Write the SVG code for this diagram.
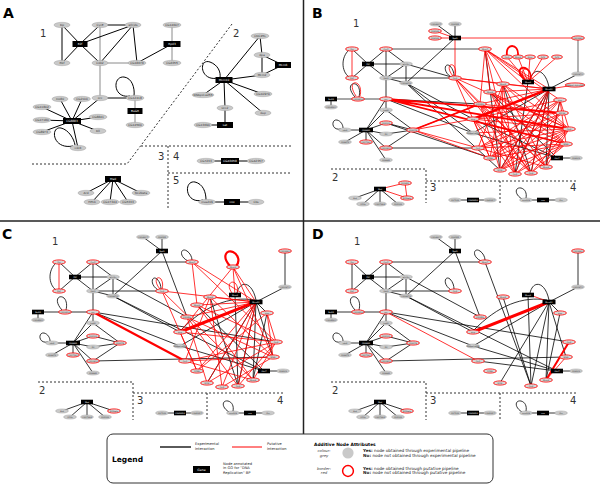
<svg xmlns="http://www.w3.org/2000/svg" width="600" height="485" viewBox="0 0 600 485">
<style>
text{font-family:"DejaVu Sans","Liberation Sans",sans-serif}
.n ellipse{fill:#c9c9c9;stroke:#9a9a9a;stroke-width:.4}
.r ellipse{fill:#d6d6d6;stroke:#f00;stroke-width:.8}
.k rect{fill:#000}
.n text,.k text{text-anchor:middle;fill:#333}
.k text{fill:#fff}
.big text{font-size:2.9px}
.sm text{font-size:2px}
.e{fill:none;stroke:#000;stroke-width:.8}
.ea{fill:none;stroke:#000;stroke-width:1}
.gy{fill:none;stroke:#8a8a8a;stroke-width:1}
.p{fill:none;stroke:#f00;stroke-width:.8}
.pt{fill:none;stroke:#f00;stroke-width:2.2}
.d{fill:none;stroke:#333;stroke-width:1;stroke-dasharray:2 2}
.lab{font-size:10px;fill:#333}
.pl{font-size:14px;font-weight:bold;fill:#000}
.frame{stroke:#222;stroke-width:1.5}
</style>
<rect width="600" height="485" fill="#fff"/>
<line class="frame" x1="303.5" y1="0" x2="303.5" y2="434"/>
<line class="frame" x1="0" y1="221" x2="600" y2="221"/>

<!-- ================= PANEL A ================= -->
<g id="panel-a">
<text class="pl" x="3" y="18">A</text>
<text class="lab" x="40" y="37">1</text>
<text class="lab" x="233" y="37">2</text>
<text class="lab" x="158" y="160">3</text>
<text class="lab" x="173" y="160">4</text>
<text class="lab" x="173" y="184">5</text>
<path class="d" d="M32,164L127,164L232,24M141,146L292,146M168,146L168,210M168,173L292,173"/>
<g id="a-connectors">
<path class="gy" d="M100,25L100,63M100,63L137,63M100,63L100,98M172,25L172,44M172,44L172,63M135,98L135,111M135,111L135,125"/>
<path class="ea" d="M62,25L80,44M62,25L62,63M100,25L80,44M100,25L133,25M133,25L80,44M133,25L100,63M133,25L137,63M80,44L62,63M80,44L100,63M137,63L172,44M100,98L135,98M72,121L100,98M72,121L60,99M72,121L82,99M72,121L42,107M72,121L42,120M72,121L42,132M72,121L98,117M72,121L98,131M72,121L78,148M73,146C52,150 50,126 61,128C69,130 74,139 75,145M130,96C113,99 112,76 124,77C132,78 135,88 134,96"/>
<path class="ea" d="M224,80L260,36M260,36L262,55M262,55L262,75M262,55L283,65M262,75L283,65M224,80L262,75M224,80L263,94M224,80L263,113M224,80L203,95M224,80L225,108M225,108L225,125M225,125L203,125M218,78C200,82 198,58 210,62C218,65 221,72 220,78"/>
<path class="ea" d="M113,179L86,193M113,179L92,202M113,179L110,202M113,179L128,202M113,179L141,193M206,161L256,161M207,202L256,202M203,200C185,205 183,180 195,182C203,184 206,192 206,200"/>
</g>
<g class="big">
<g id="a-dp" class="n"><ellipse cx="62" cy="25" rx="8" ry="2.7"/><text x="62" y="26">Dp</text></g>
<g id="a-cyce" class="n"><ellipse cx="100" cy="25" rx="8" ry="2.7"/><text x="100" y="26">CycE</text></g>
<g id="a-eh2s" class="n"><ellipse cx="133" cy="25" rx="8" ry="2.7"/><text x="133" y="26">e(h)2s</text></g>
<g id="a-e2f" class="k"><rect x="72.5" y="41" width="15" height="6"/><text x="80" y="45">E2f</text></g>
<g id="a-rbf" class="n"><ellipse cx="62" cy="63" rx="8" ry="2.7"/><text x="62" y="64">Rbf</text></g>
<g id="a-cdk2" class="n"><ellipse cx="100" cy="63" rx="8" ry="2.7"/><text x="100" y="64">Cdk2</text></g>
<g id="a-cg18676" class="n"><ellipse cx="137" cy="63" rx="9" ry="2.7"/><text x="137" y="64">CG18676</text></g>
<g id="a-cg14607" class="n"><ellipse cx="172" cy="25" rx="9" ry="2.7"/><text x="172" y="26">CG14607</text></g>
<g id="a-rpd3" class="k"><rect x="163.5" y="41" width="17" height="6"/><text x="172" y="45">Rpd3</text></g>
<g id="a-cg6355" class="n"><ellipse cx="172" cy="63" rx="9" ry="2.7"/><text x="172" y="64">CG6355</text></g>
<g id="a-orc" class="n"><ellipse cx="100" cy="98" rx="8" ry="2.7"/><text x="100" y="99">orc</text></g>
<g id="a-cg12418" class="n"><ellipse cx="135" cy="98" rx="9" ry="2.7"/><text x="135" y="99">CG12418</text></g>
<g id="a-bugr" class="k"><rect x="127.5" y="108" width="15" height="6"/><text x="135" y="112">BuGR</text></g>
<g id="a-cg14560" class="n"><ellipse cx="135" cy="125" rx="9" ry="2.7"/><text x="135" y="126">CG14560</text></g>
<g id="a-cg8883" class="k"><rect x="63" y="118" width="18" height="6"/><text x="72" y="122">CG8883</text></g>
<g id="a-ino80" class="n"><ellipse cx="60" cy="99" rx="8" ry="2.7"/><text x="60" y="100">Ino80</text></g>
<g id="a-cg2100" class="n"><ellipse cx="82" cy="99" rx="8.5" ry="2.7"/><text x="82" y="100">CG2100</text></g>
<g id="a-cg11802" class="n"><ellipse cx="42" cy="107" rx="9" ry="2.7"/><text x="42" y="108">CG11802</text></g>
<g id="a-cg17180" class="n"><ellipse cx="42" cy="120" rx="9" ry="2.7"/><text x="42" y="121">CG17180</text></g>
<g id="a-cg8973" class="n"><ellipse cx="42" cy="132" rx="9" ry="2.7"/><text x="42" y="133">CG8973</text></g>
<g id="a-cg8841" class="n"><ellipse cx="98" cy="117" rx="9" ry="2.7"/><text x="98" y="118">CG8841</text></g>
<g id="a-dll" class="n"><ellipse cx="98" cy="131" rx="8" ry="2.7"/><text x="98" y="132">Dll</text></g>
<g id="a-cdc6" class="n"><ellipse cx="78" cy="148" rx="8" ry="2.7"/><text x="78" y="149">cdc6</text></g>
<g id="a-mcm10" class="k"><rect x="215.5" y="77" width="17" height="6"/><text x="224" y="81">Mcm10</text></g>
<g id="a-cdc45l" class="n"><ellipse cx="260" cy="36" rx="9" ry="2.7"/><text x="260" y="37">CDC45L</text></g>
<g id="a-dpa" class="n"><ellipse cx="262" cy="55" rx="8" ry="2.7"/><text x="262" y="56">dpa</text></g>
<g id="a-mcm6" class="k"><rect x="275" y="62" width="16" height="6"/><text x="283" y="66">Mcm6</text></g>
<g id="a-mcm2" class="n"><ellipse cx="262" cy="75" rx="8" ry="2.7"/><text x="262" y="76">Mcm2</text></g>
<g id="a-cg10970" class="n"><ellipse cx="263" cy="94" rx="9" ry="2.7"/><text x="263" y="95">CG10970</text></g>
<g id="a-dup" class="n"><ellipse cx="263" cy="113" rx="8" ry="2.7"/><text x="263" y="114">dup</text></g>
<g id="a-pol" class="n"><ellipse cx="203" cy="95" rx="11" ry="2.7"/><text x="203" y="96">DNApol-e255</text></g>
<g id="a-orc2" class="n"><ellipse cx="225" cy="108" rx="8" ry="2.7"/><text x="225" y="109">Orc2</text></g>
<g id="a-lat" class="k"><rect x="217" y="122" width="16" height="6"/><text x="225" y="126">Lat</text></g>
<g id="a-cg13690" class="n"><ellipse cx="203" cy="125" rx="9" ry="2.7"/><text x="203" y="126">CG13690</text></g>
<g id="a-mad" class="k"><rect x="105" y="176" width="16" height="6"/><text x="113" y="180">Mad</text></g>
<g id="a-ard" class="n"><ellipse cx="86" cy="193" rx="8" ry="2.7"/><text x="86" y="194">Ard</text></g>
<g id="a-hp1b" class="n"><ellipse cx="92" cy="202" rx="8" ry="2.7"/><text x="92" y="203">HP1b</text></g>
<g id="a-cg17344" class="n"><ellipse cx="110" cy="202" rx="9" ry="2.7"/><text x="110" y="203">CG17344</text></g>
<g id="a-cg5333" class="n"><ellipse cx="128" cy="202" rx="8.5" ry="2.7"/><text x="128" y="203">CG5333</text></g>
<g id="a-nc2b" class="n"><ellipse cx="141" cy="193" rx="9" ry="2.7"/><text x="141" y="194">NC2beta</text></g>
<g id="a-cg7233" class="n"><ellipse cx="206" cy="161" rx="9" ry="2.7"/><text x="206" y="162">CG7233</text></g>
<g id="a-cg43658" class="k"><rect x="221" y="158" width="18" height="6"/><text x="230" y="162">CG43658</text></g>
<g id="a-cg42357" class="n"><ellipse cx="256" cy="161" rx="9" ry="2.7"/><text x="256" y="162">CG42357</text></g>
<g id="a-mus209" class="n"><ellipse cx="207" cy="202" rx="8.5" ry="2.7"/><text x="207" y="203">mus209</text></g>
<g id="a-cno" class="k"><rect x="224" y="199" width="16" height="6"/><text x="232" y="203">cno</text></g>
<g id="a-cks" class="n"><ellipse cx="256" cy="202" rx="8" ry="2.7"/><text x="256" y="203">Cks</text></g>
</g>
</g>

<!-- ================= PANEL C ================= -->
<g id="panel-c">
<text class="pl" x="2" y="239">C</text>
<text class="lab" x="52" y="245">1</text>
<text class="lab" x="39" y="394">2</text>
<text class="lab" x="137" y="404">3</text>
<text class="lab" x="277" y="404">4</text>
<path class="d" d="M38,382L133,382L133,420M133,393L285,393M207,393L207,420"/>
<g id="c-connectors">
<path class="e" d="M59,262L75,277M59,291L75,277M93,262L75,277M113,277L75,277M93,291L75,277M93,262L93,291M93,262L113,277M113,277L93,291M113,277L113,296M93,291L113,296M93,262L192,262M93,291L162,291M113,296L162,251M143,237L162,251M162,237L162,251M93,291L93,312M38,312L38,320M38,312L65,312M65,312L93,312M93,312L73,343M93,312L93,323M73,343L93,323M73,343L93,336M73,343L93,347M73,343L93,361M73,343L93,373M73,343L52,343M73,343L52,355M73,343L73,355M93,323L120,343M93,336L120,343M93,347L120,343M93,361L120,343M93,361L273,357M93,312L180,346M93,312L276,342M113,296L264,371M113,277L187,317M162,251L187,317M113,296L180,332"/>
<path class="e" d="M285,251L285,287M285,287L256,302M256,302L238,386M256,302L253,380M235,295L238,386M256,302L180,346M210,297L238,386M180,346L264,371M264,371L283,371M256,302L207,383M256,302L273,357M256,302L267,313M267,313L253,380M197,305L264,371"/>
<path class="e" d="M180,331C205,305 230,296 254,300M237,293C240,280 252,281 256,300M188,261C178,256 181,247 187,251C190,253 192,257 192,260M158,290C149,284 152,275 157,279C160,282 161,286 161,289M62,310C53,300 59,294 64,298C67,301 67,306 66,310M48,342C38,344 38,332 44,333C48,334 50,338 50,341M56,263C48,270 48,284 56,290"/>
<path class="e" d="M87,402L62,411M87,402L70,417M87,402L87,417M87,402L105,417M87,402L114,411M162,413L197,413M233,413L268,413M229,412C221,407 222,400 228,401C232,402 234,406 233,411"/>
<path class="p" d="M59,262L59,291M233,267L235,295M192,262L256,302M192,262L276,342M210,297L256,302M197,305L256,302M187,317L256,302M187,317L273,357M180,332L276,342M185,361L276,342M185,361L273,357M185,361L253,380M197,371L256,302M197,371L267,313M207,383L256,302M207,383L276,342M222,387L256,302M238,386L256,302M253,380L276,342M273,357L267,313M276,342L267,313M197,305L253,380M210,297L222,387M210,297L273,357M187,317L207,383M180,332L197,371M162,291L197,371M162,291L253,380M192,262L197,305M210,297L185,361M187,317L238,386M197,305L276,342M233,267L180,332M233,267L273,357M222,387L273,357M238,386L276,342M162,291L256,302M233,267L256,302M232,293C226,285 231,280 235,283C238,286 238,290 237,293M160,289C153,281 157,275 161,279C163,282 163,286 162,289"/>
<path class="pt" d="M93,312L185,361M230,266C221,256 227,249 233,252C239,255 240,262 236,266"/>
<path class="pt" style="stroke-width:3" d="M180,332L256,302"/>
</g>
<g class="sm">
<g id="c-dp" class="n r"><ellipse cx="59" cy="262" rx="6.5" ry="2.1"/><text x="59" y="262.7">Dp</text></g>
<g id="c-rbf" class="n r"><ellipse cx="59" cy="291" rx="6.5" ry="2.1"/><text x="59" y="291.7">Rbf</text></g>
<g id="c-e2f" class="k"><rect x="69" y="274.7" width="12" height="4.6"/><text x="75" y="277.7">E2f</text></g>
<g id="c-cyce" class="n r"><ellipse cx="93" cy="262" rx="6.5" ry="2.1"/><text x="93" y="262.7">CycE</text></g>
<g id="c-eh2s" class="n"><ellipse cx="113" cy="277" rx="6.5" ry="2.1"/><text x="113" y="277.7">e(h)2s</text></g>
<g id="c-cdk2" class="n"><ellipse cx="93" cy="291" rx="6.5" ry="2.1"/><text x="93" y="291.7">Cdk2</text></g>
<g id="c-cg18676" class="n"><ellipse cx="113" cy="296" rx="6.5" ry="2.1"/><text x="113" y="296.7">CG18676</text></g>
<g id="c-bugr" class="k"><rect x="32" y="309.7" width="12" height="4.6"/><text x="38" y="312.7">BuGR</text></g>
<g id="c-cg14560" class="n"><ellipse cx="38" cy="320" rx="6.5" ry="2.1"/><text x="38" y="320.7">CG14560</text></g>
<g id="c-cg12418" class="n r"><ellipse cx="65" cy="312" rx="6.5" ry="2.1"/><text x="65" y="312.7">CG12418</text></g>
<g id="c-orc" class="n r"><ellipse cx="93" cy="312" rx="6.5" ry="2.1"/><text x="93" y="312.7">orc</text></g>
<g id="c-ino80" class="n"><ellipse cx="93" cy="323" rx="6.5" ry="2.1"/><text x="93" y="323.7">Ino80</text></g>
<g id="c-cg8883" class="k"><rect x="66" y="340.7" width="14" height="4.6"/><text x="73" y="343.7">CG8883</text></g>
<g id="c-cdc6" class="n"><ellipse cx="52" cy="343" rx="6.5" ry="2.1"/><text x="52" y="343.7">cdc6</text></g>
<g id="c-cg8973" class="n"><ellipse cx="52" cy="355" rx="6.5" ry="2.1"/><text x="52" y="355.7">CG8973</text></g>
<g id="c-cg17180" class="n r"><ellipse cx="73" cy="355" rx="6.5" ry="2.1"/><text x="73" y="355.7">CG17180</text></g>
<g id="c-cg2100" class="n r"><ellipse cx="93" cy="336" rx="6.5" ry="2.1"/><text x="93" y="336.7">CG2100</text></g>
<g id="c-dll" class="n"><ellipse cx="93" cy="347" rx="6.5" ry="2.1"/><text x="93" y="347.7">Dll</text></g>
<g id="c-cg11802" class="n r"><ellipse cx="93" cy="361" rx="6.5" ry="2.1"/><text x="93" y="361.7">CG11802</text></g>
<g id="c-cg8841" class="n"><ellipse cx="93" cy="373" rx="6.5" ry="2.1"/><text x="93" y="373.7">CG8841</text></g>
<g id="c-cg4078" class="n r"><ellipse cx="120" cy="343" rx="6.5" ry="2.1"/><text x="120" y="343.7">CG4078</text></g>
<g id="c-cg14607" class="n"><ellipse cx="143" cy="237" rx="6.5" ry="2.1"/><text x="143" y="237.7">CG14607</text></g>
<g id="c-rpd3" class="k"><rect x="156" y="248.7" width="12" height="4.6"/><text x="162" y="251.7">Rpd3</text></g>
<g id="c-cg6355" class="n"><ellipse cx="162" cy="237" rx="6.5" ry="2.1"/><text x="162" y="237.7">CG6355</text></g>
<g id="c-mcm7" class="n r"><ellipse cx="192" cy="262" rx="6.5" ry="2.1"/><text x="192" y="262.7">Mcm7</text></g>
<g id="c-orc2" class="n r"><ellipse cx="162" cy="291" rx="6.5" ry="2.1"/><text x="162" y="291.7">Orc2</text></g>
<g id="c-cg13690" class="n r"><ellipse cx="285" cy="251" rx="6.5" ry="2.1"/><text x="285" y="251.7">CG13690</text></g>
<g id="c-cg10970" class="n"><ellipse cx="285" cy="287" rx="6.5" ry="2.1"/><text x="285" y="287.7">CG10970</text></g>
<g id="c-mcm3" class="n r"><ellipse cx="233" cy="267" rx="6.5" ry="2.1"/><text x="233" y="267.7">Mcm3</text></g>
<g id="c-mcm6" class="k"><rect x="229" y="292.7" width="12" height="4.6"/><text x="235" y="295.7">Mcm6</text></g>
<g id="c-mcm10" class="k"><rect x="249.5" y="299.7" width="13" height="4.6"/><text x="256" y="302.7">Mcm10</text></g>
<g id="c-mcm5" class="n r"><ellipse cx="210" cy="297" rx="6.5" ry="2.1"/><text x="210" y="297.7">Mcm5</text></g>
<g id="c-mcm2" class="n r"><ellipse cx="197" cy="305" rx="6.5" ry="2.1"/><text x="197" y="305.7">Mcm2</text></g>
<g id="c-dpa" class="n r"><ellipse cx="267" cy="313" rx="6.5" ry="2.1"/><text x="267" y="313.7">dpa</text></g>
<g id="c-cdc45l" class="n r"><ellipse cx="187" cy="317" rx="6.5" ry="2.1"/><text x="187" y="317.7">CDC45L</text></g>
<g id="c-dup" class="n r"><ellipse cx="180" cy="332" rx="6.5" ry="2.1"/><text x="180" y="332.7">dup</text></g>
<g id="c-pol" class="n"><ellipse cx="180" cy="346" rx="6.5" ry="2.1"/><text x="180" y="346.7">DNApol-e255</text></g>
<g id="c-orc1" class="n r"><ellipse cx="185" cy="361" rx="6.5" ry="2.1"/><text x="185" y="361.7">Orc1</text></g>
<g id="c-pcna" class="n r"><ellipse cx="197" cy="371" rx="6.5" ry="2.1"/><text x="197" y="371.7">PCNA</text></g>
<g id="c-rfc4" class="n r"><ellipse cx="207" cy="383" rx="6.5" ry="2.1"/><text x="207" y="383.7">RfC4</text></g>
<g id="c-orc5" class="n r"><ellipse cx="222" cy="387" rx="6.5" ry="2.1"/><text x="222" y="387.7">Orc5</text></g>
<g id="c-orc4" class="n r"><ellipse cx="238" cy="386" rx="6.5" ry="2.1"/><text x="238" y="386.7">Orc4</text></g>
<g id="c-mcm4" class="n r"><ellipse cx="253" cy="380" rx="6.5" ry="2.1"/><text x="253" y="380.7">Mcm4</text></g>
<g id="c-rpa2" class="n r"><ellipse cx="273" cy="357" rx="6.5" ry="2.1"/><text x="273" y="357.7">RPA2</text></g>
<g id="c-orc6" class="n r"><ellipse cx="276" cy="342" rx="6.5" ry="2.1"/><text x="276" y="342.7">Orc6</text></g>
<g id="c-cdc7" class="k"><rect x="258" y="368.7" width="12" height="4.6"/><text x="264" y="371.7">Cdc7</text></g>
<g id="c-cg9203" class="n"><ellipse cx="283" cy="371" rx="6.5" ry="2.1"/><text x="283" y="371.7">CG9203</text></g>
<g id="c-mad" class="k"><rect x="81" y="399.7" width="12" height="4.6"/><text x="87" y="402.7">Mad</text></g>
<g id="c-ard" class="n"><ellipse cx="62" cy="411" rx="6.5" ry="2.1"/><text x="62" y="411.7">Ard</text></g>
<g id="c-hp1b" class="n"><ellipse cx="70" cy="417" rx="6.5" ry="2.1"/><text x="70" y="417.7">HP1b</text></g>
<g id="c-cg17344" class="n"><ellipse cx="87" cy="417" rx="6.5" ry="2.1"/><text x="87" y="417.7">CG17344</text></g>
<g id="c-cg5333" class="n"><ellipse cx="105" cy="417" rx="6.5" ry="2.1"/><text x="105" y="417.7">CG5333</text></g>
<g id="c-nc2b" class="n r"><ellipse cx="114" cy="411" rx="6.5" ry="2.1"/><text x="114" y="411.7">NC2beta</text></g>
<g id="c-cg7233" class="n"><ellipse cx="162" cy="413" rx="6.5" ry="2.1"/><text x="162" y="413.7">CG7233</text></g>
<g id="c-cg43658" class="k"><rect x="174" y="410.7" width="12" height="4.6"/><text x="180" y="413.7">CG43658</text></g>
<g id="c-cg42357" class="n"><ellipse cx="197" cy="413" rx="6.5" ry="2.1"/><text x="197" y="413.7">CG42357</text></g>
<g id="c-mus209" class="n"><ellipse cx="233" cy="413" rx="6.5" ry="2.1"/><text x="233" y="413.7">mus209</text></g>
<g id="c-cno" class="k"><rect x="244" y="410.7" width="12" height="4.6"/><text x="250" y="413.7">cno</text></g>
<g id="c-cks" class="n"><ellipse cx="268" cy="413" rx="6.5" ry="2.1"/><text x="268" y="413.7">Cks</text></g>
</g>
</g>

<!-- ================= PANEL D ================= -->
<g id="panel-d">
<text class="pl" x="312" y="239">D</text>
<text class="lab" x="354" y="245">1</text>
<text class="lab" x="332" y="394">2</text>
<text class="lab" x="430" y="404">3</text>
<text class="lab" x="570" y="404">4</text>
<g transform="translate(293,0)">
<path class="d" d="M38,382L133,382L133,420M133,393L285,393M207,393L207,420"/>
<g id="d-connectors">
<path class="e" d="M59,262L59,291M59,262L75,277M59,291L75,277M93,262L75,277M113,277L75,277M93,291L75,277M93,262L93,291M93,262L113,277M113,277L93,291M113,277L113,296M93,291L113,296M93,262L192,262M93,291L162,291M113,296L162,251M143,237L162,251M162,237L162,251M93,291L93,312M38,312L38,320M38,312L65,312M65,312L93,312M93,312L73,343M93,312L93,323M73,343L93,323M73,343L93,336M73,343L93,347M73,343L93,361M73,343L93,373M73,343L52,343M73,343L52,355M73,343L73,355M93,323L120,343M93,336L120,343M93,347L120,343M93,361L120,343M93,361L273,357M93,312L180,346M93,312L276,342M113,296L264,371M113,277L187,317M162,251L187,317M113,296L180,332"/>
<path class="e" d="M285,251L285,287M285,287L256,302M256,302L238,386M256,302L253,380M235,295L238,386M256,302L180,346M210,297L238,386M180,346L264,371M264,371L283,371M256,302L207,383M256,302L273,357M256,302L267,313M267,313L253,380M192,262L238,386M185,361L264,371"/>
<path class="e" d="M180,331C205,305 230,296 254,300M237,293C240,280 252,281 256,300M188,261C178,256 181,247 187,251C190,253 192,257 192,260M158,290C149,284 152,275 157,279C160,282 161,286 161,289M62,310C53,300 59,294 64,298C67,301 67,306 66,310M48,342C38,344 38,332 44,333C48,334 50,338 50,341"/>
<path class="e" d="M87,402L62,411M87,402L70,417M87,402L87,417M87,402L105,417M87,402L114,411M162,413L197,413M233,413L268,413M229,412C221,407 222,400 228,401C232,402 234,406 233,411"/>
<path class="p" d="M93,312L185,361M240,296L256,302M273,357L253,380"/>
<path class="pt" style="stroke-width:2" d="M276,342L253,380"/>
<path class="pt" style="stroke-width:3" d="M180,332L256,302"/>
</g>
<g class="sm">
<g id="d-dp" class="n r"><ellipse cx="59" cy="262" rx="6.5" ry="2.1"/><text x="59" y="262.7">Dp</text></g>
<g id="d-rbf" class="n r"><ellipse cx="59" cy="291" rx="6.5" ry="2.1"/><text x="59" y="291.7">Rbf</text></g>
<g id="d-e2f" class="k"><rect x="69" y="274.7" width="12" height="4.6"/><text x="75" y="277.7">E2f</text></g>
<g id="d-cyce" class="n r"><ellipse cx="93" cy="262" rx="6.5" ry="2.1"/><text x="93" y="262.7">CycE</text></g>
<g id="d-eh2s" class="n"><ellipse cx="113" cy="277" rx="6.5" ry="2.1"/><text x="113" y="277.7">e(h)2s</text></g>
<g id="d-cdk2" class="n"><ellipse cx="93" cy="291" rx="6.5" ry="2.1"/><text x="93" y="291.7">Cdk2</text></g>
<g id="d-cg18676" class="n"><ellipse cx="113" cy="296" rx="6.5" ry="2.1"/><text x="113" y="296.7">CG18676</text></g>
<g id="d-bugr" class="k"><rect x="32" y="309.7" width="12" height="4.6"/><text x="38" y="312.7">BuGR</text></g>
<g id="d-cg14560" class="n"><ellipse cx="38" cy="320" rx="6.5" ry="2.1"/><text x="38" y="320.7">CG14560</text></g>
<g id="d-cg12418" class="n r"><ellipse cx="65" cy="312" rx="6.5" ry="2.1"/><text x="65" y="312.7">CG12418</text></g>
<g id="d-orc" class="n r"><ellipse cx="93" cy="312" rx="6.5" ry="2.1"/><text x="93" y="312.7">orc</text></g>
<g id="d-ino80" class="n"><ellipse cx="93" cy="323" rx="6.5" ry="2.1"/><text x="93" y="323.7">Ino80</text></g>
<g id="d-cg8883" class="k"><rect x="66" y="340.7" width="14" height="4.6"/><text x="73" y="343.7">CG8883</text></g>
<g id="d-cdc6" class="n"><ellipse cx="52" cy="343" rx="6.5" ry="2.1"/><text x="52" y="343.7">cdc6</text></g>
<g id="d-cg8973" class="n"><ellipse cx="52" cy="355" rx="6.5" ry="2.1"/><text x="52" y="355.7">CG8973</text></g>
<g id="d-cg17180" class="n r"><ellipse cx="73" cy="355" rx="6.5" ry="2.1"/><text x="73" y="355.7">CG17180</text></g>
<g id="d-cg2100" class="n r"><ellipse cx="93" cy="336" rx="6.5" ry="2.1"/><text x="93" y="336.7">CG2100</text></g>
<g id="d-dll" class="n"><ellipse cx="93" cy="347" rx="6.5" ry="2.1"/><text x="93" y="347.7">Dll</text></g>
<g id="d-cg11802" class="n r"><ellipse cx="93" cy="361" rx="6.5" ry="2.1"/><text x="93" y="361.7">CG11802</text></g>
<g id="d-cg8841" class="n"><ellipse cx="93" cy="373" rx="6.5" ry="2.1"/><text x="93" y="373.7">CG8841</text></g>
<g id="d-cg4078" class="n r"><ellipse cx="120" cy="343" rx="6.5" ry="2.1"/><text x="120" y="343.7">CG4078</text></g>
<g id="d-cg14607" class="n"><ellipse cx="143" cy="237" rx="6.5" ry="2.1"/><text x="143" y="237.7">CG14607</text></g>
<g id="d-rpd3" class="k"><rect x="156" y="248.7" width="12" height="4.6"/><text x="162" y="251.7">Rpd3</text></g>
<g id="d-cg6355" class="n"><ellipse cx="162" cy="237" rx="6.5" ry="2.1"/><text x="162" y="237.7">CG6355</text></g>
<g id="d-mcm7" class="n r"><ellipse cx="192" cy="262" rx="6.5" ry="2.1"/><text x="192" y="262.7">Mcm7</text></g>
<g id="d-orc2" class="n r"><ellipse cx="162" cy="291" rx="6.5" ry="2.1"/><text x="162" y="291.7">Orc2</text></g>
<g id="d-cg13690" class="n r"><ellipse cx="285" cy="251" rx="6.5" ry="2.1"/><text x="285" y="251.7">CG13690</text></g>
<g id="d-cg10970" class="n"><ellipse cx="285" cy="287" rx="6.5" ry="2.1"/><text x="285" y="287.7">CG10970</text></g>
<g id="d-mcm6" class="k"><rect x="229" y="292.7" width="12" height="4.6"/><text x="235" y="295.7">Mcm6</text></g>
<g id="d-mcm10" class="k"><rect x="249.5" y="299.7" width="13" height="4.6"/><text x="256" y="302.7">Mcm10</text></g>
<g id="d-mcm5" class="n r"><ellipse cx="210" cy="297" rx="6.5" ry="2.1"/><text x="210" y="297.7">Mcm5</text></g>
<g id="d-dpa" class="n r"><ellipse cx="267" cy="313" rx="6.5" ry="2.1"/><text x="267" y="313.7">dpa</text></g>
<g id="d-cdc45l" class="n r"><ellipse cx="187" cy="317" rx="6.5" ry="2.1"/><text x="187" y="317.7">CDC45L</text></g>
<g id="d-dup" class="n r"><ellipse cx="180" cy="332" rx="6.5" ry="2.1"/><text x="180" y="332.7">dup</text></g>
<g id="d-pol" class="n"><ellipse cx="180" cy="346" rx="6.5" ry="2.1"/><text x="180" y="346.7">DNApol-e255</text></g>
<g id="d-orc1" class="n r"><ellipse cx="185" cy="361" rx="6.5" ry="2.1"/><text x="185" y="361.7">Orc1</text></g>
<g id="d-pcna" class="n r"><ellipse cx="197" cy="371" rx="6.5" ry="2.1"/><text x="197" y="371.7">PCNA</text></g>
<g id="d-rfc4" class="n r"><ellipse cx="207" cy="383" rx="6.5" ry="2.1"/><text x="207" y="383.7">RfC4</text></g>
<g id="d-orc4" class="n r"><ellipse cx="238" cy="386" rx="6.5" ry="2.1"/><text x="238" y="386.7">Orc4</text></g>
<g id="d-mcm4" class="n r"><ellipse cx="253" cy="380" rx="6.5" ry="2.1"/><text x="253" y="380.7">Mcm4</text></g>
<g id="d-rpa2" class="n r"><ellipse cx="273" cy="357" rx="6.5" ry="2.1"/><text x="273" y="357.7">RPA2</text></g>
<g id="d-orc6" class="n r"><ellipse cx="276" cy="342" rx="6.5" ry="2.1"/><text x="276" y="342.7">Orc6</text></g>
<g id="d-cdc7" class="k"><rect x="258" y="368.7" width="12" height="4.6"/><text x="264" y="371.7">Cdc7</text></g>
<g id="d-cg9203" class="n"><ellipse cx="283" cy="371" rx="6.5" ry="2.1"/><text x="283" y="371.7">CG9203</text></g>
<g id="d-mad" class="k"><rect x="81" y="399.7" width="12" height="4.6"/><text x="87" y="402.7">Mad</text></g>
<g id="d-ard" class="n"><ellipse cx="62" cy="411" rx="6.5" ry="2.1"/><text x="62" y="411.7">Ard</text></g>
<g id="d-hp1b" class="n"><ellipse cx="70" cy="417" rx="6.5" ry="2.1"/><text x="70" y="417.7">HP1b</text></g>
<g id="d-cg17344" class="n"><ellipse cx="87" cy="417" rx="6.5" ry="2.1"/><text x="87" y="417.7">CG17344</text></g>
<g id="d-cg5333" class="n"><ellipse cx="105" cy="417" rx="6.5" ry="2.1"/><text x="105" y="417.7">CG5333</text></g>
<g id="d-nc2b" class="n r"><ellipse cx="114" cy="411" rx="6.5" ry="2.1"/><text x="114" y="411.7">NC2beta</text></g>
<g id="d-cg7233" class="n"><ellipse cx="162" cy="413" rx="6.5" ry="2.1"/><text x="162" y="413.7">CG7233</text></g>
<g id="d-cg43658" class="k"><rect x="174" y="410.7" width="12" height="4.6"/><text x="180" y="413.7">CG43658</text></g>
<g id="d-cg42357" class="n"><ellipse cx="197" cy="413" rx="6.5" ry="2.1"/><text x="197" y="413.7">CG42357</text></g>
<g id="d-mus209" class="n"><ellipse cx="233" cy="413" rx="6.5" ry="2.1"/><text x="233" y="413.7">mus209</text></g>
<g id="d-cno" class="k"><rect x="244" y="410.7" width="12" height="4.6"/><text x="250" y="413.7">cno</text></g>
<g id="d-cks" class="n"><ellipse cx="268" cy="413" rx="6.5" ry="2.1"/><text x="268" y="413.7">Cks</text></g>
</g>
</g>
</g>

<!-- ================= PANEL B ================= -->
<g id="panel-b">
<text class="pl" x="312" y="18">B</text>
<text class="lab" x="353" y="27">1</text>
<text class="lab" x="332" y="181">2</text>
<text class="lab" x="430" y="191">3</text>
<text class="lab" x="570" y="191">4</text>
<g transform="translate(293,-213)">
<path class="d" d="M38,382L133,382L133,416M133,394L285,394M207,394L207,416"/>
<g id="b-connectors">
<path class="gy" d="M93,262L192,262M38,312L65,312M65,312L93,312M285,251L285,287" style="stroke-width:1.3"/>
<path class="e" d="M59,262L75,277M59,291L75,277M93,262L75,277M113,277L75,277M93,291L75,277M93,262L93,291M93,262L113,277M113,277L93,291M113,277L113,296M93,291L113,296M93,291L162,291M113,296L162,251M143,237L162,251M162,237L162,251M93,291L93,312M38,312L38,320M93,312L73,343M93,312L93,323M73,343L93,323M73,343L93,336M73,343L93,347M73,343L93,361M73,343L93,373M73,343L52,343M73,343L52,355M73,343L73,355M93,323L120,343M93,336L120,343M93,347L120,343M93,361L120,343M93,361L185,361M93,312L180,346M93,312L187,317M113,296L180,332M113,296L180,346M113,277L162,291M113,296L207,383M93,336L197,371"/>
<path class="e" d="M285,287L256,302M256,302L238,386M256,302L253,380M256,302L222,387M235,295L222,387M210,297L238,386M180,346L264,371M264,371L283,371M256,302L207,383M256,302L180,346M267,313L253,380M192,262L207,383M197,305L264,371M180,332L264,371"/>
<path class="e" d="M237,293C240,280 252,281 256,300M158,290C149,284 152,275 157,279C160,282 161,286 161,289M62,310C53,300 59,294 64,298C67,301 67,306 66,310M48,342C38,344 38,332 44,333C48,334 50,338 50,341M56,263C48,270 48,284 56,290"/>
<path class="e" d="M87,402L62,411M87,402L70,417M87,402L87,417M87,402L105,417M162,413L197,413M233,413L268,413M229,412C221,407 222,400 228,401C232,402 234,406 233,411"/>
<path class="p" d="M59,262L59,291M87,402L112,396M87,402L114,411M112,396L114,411M162,251L285,251M142,244L162,251M142,251L162,251M162,251L162,291M214,270L235,295M225,270L235,295M237,270L235,295M250,270L235,295M264,270L235,295M192,262L235,295M192,262L256,302M192,262L276,342M210,297L256,302M197,305L256,302M187,317L256,302M187,317L273,357M180,332L276,342M185,361L276,342M185,361L273,357M185,361L253,380M197,371L256,302M197,371L267,313M207,383L256,302M207,383L276,342M222,387L256,302M238,386L256,302M253,380L276,342M273,357L267,313M276,342L267,313M197,305L253,380M210,297L222,387M210,297L273,357M187,317L207,383M180,332L197,371M162,291L197,371M162,291L253,380M192,262L197,305M210,297L185,361M187,317L238,386M197,305L276,342M222,387L273,357M238,386L276,342M162,291L256,302M269,326L187,317M269,326L180,332M269,326L185,361M269,326L197,371M269,326L207,383M282,298L256,302M197,305L238,386M192,262L222,387M192,262L253,380M210,297L207,383M210,297L197,371M187,317L222,387M187,317L253,380M180,332L238,386M180,332L222,387M180,332L267,313M185,361L267,313M197,371L276,342M197,371L273,357M207,383L273,357M207,383L267,313M222,387L276,342M238,386L273,357M253,380L267,313M162,291L187,317M162,291L210,297M162,291L238,386M162,291L276,342M197,305L273,357M210,297L276,342M192,262L267,313M192,262L187,317M180,346L276,342M120,343L180,332M120,343L185,361M120,343L197,371M120,343L187,317M232,293C226,285 231,280 235,283C238,286 238,290 237,293M160,289C153,281 157,275 161,279C163,282 163,286 162,289M63,309C56,299 60,293 65,297C68,300 68,305 67,309"/>
<path class="pt" style="stroke-width:1.8" d="M93,312L276,342M93,312L273,357M120,343L187,317M93,312L269,326M214,268C212,256 226,256 225,268M232,293C222,284 228,278 234,282C238,285 238,290 237,293"/>
<path class="pt" style="stroke-width:2.6" d="M180,332L256,302"/>
</g>
<g class="sm">
<g id="b-dp" class="n r"><ellipse cx="59" cy="262" rx="6.5" ry="2.1"/><text x="59" y="262.7">Dp</text></g>
<g id="b-rbf" class="n r"><ellipse cx="59" cy="291" rx="6.5" ry="2.1"/><text x="59" y="291.7">Rbf</text></g>
<g id="b-e2f" class="k"><rect x="69" y="274.7" width="12" height="4.6"/><text x="75" y="277.7">E2f</text></g>
<g id="b-cyce" class="n r"><ellipse cx="93" cy="262" rx="6.5" ry="2.1"/><text x="93" y="262.7">CycE</text></g>
<g id="b-eh2s" class="n"><ellipse cx="113" cy="277" rx="6.5" ry="2.1"/><text x="113" y="277.7">e(h)2s</text></g>
<g id="b-cdk2" class="n"><ellipse cx="93" cy="291" rx="6.5" ry="2.1"/><text x="93" y="291.7">Cdk2</text></g>
<g id="b-cg18676" class="n"><ellipse cx="113" cy="296" rx="6.5" ry="2.1"/><text x="113" y="296.7">CG18676</text></g>
<g id="b-bugr" class="k"><rect x="32" y="309.7" width="12" height="4.6"/><text x="38" y="312.7">BuGR</text></g>
<g id="b-cg14560" class="n"><ellipse cx="38" cy="320" rx="6.5" ry="2.1"/><text x="38" y="320.7">CG14560</text></g>
<g id="b-cg12418" class="n r"><ellipse cx="65" cy="312" rx="6.5" ry="2.1"/><text x="65" y="312.7">CG12418</text></g>
<g id="b-orc" class="n r"><ellipse cx="93" cy="312" rx="6.5" ry="2.1"/><text x="93" y="312.7">orc</text></g>
<g id="b-ino80" class="n"><ellipse cx="93" cy="323" rx="6.5" ry="2.1"/><text x="93" y="323.7">Ino80</text></g>
<g id="b-cg8883" class="k"><rect x="66" y="340.7" width="14" height="4.6"/><text x="73" y="343.7">CG8883</text></g>
<g id="b-cdc6" class="n"><ellipse cx="52" cy="343" rx="6.5" ry="2.1"/><text x="52" y="343.7">cdc6</text></g>
<g id="b-cg8973" class="n"><ellipse cx="52" cy="355" rx="6.5" ry="2.1"/><text x="52" y="355.7">CG8973</text></g>
<g id="b-cg17180" class="n r"><ellipse cx="73" cy="355" rx="6.5" ry="2.1"/><text x="73" y="355.7">CG17180</text></g>
<g id="b-cg2100" class="n r"><ellipse cx="93" cy="336" rx="6.5" ry="2.1"/><text x="93" y="336.7">CG2100</text></g>
<g id="b-dll" class="n"><ellipse cx="93" cy="347" rx="6.5" ry="2.1"/><text x="93" y="347.7">Dll</text></g>
<g id="b-cg11802" class="n r"><ellipse cx="93" cy="361" rx="6.5" ry="2.1"/><text x="93" y="361.7">CG11802</text></g>
<g id="b-cg8841" class="n"><ellipse cx="93" cy="373" rx="6.5" ry="2.1"/><text x="93" y="373.7">CG8841</text></g>
<g id="b-cg4078" class="n r"><ellipse cx="120" cy="343" rx="6.5" ry="2.1"/><text x="120" y="343.7">CG4078</text></g>
<g id="b-cg14607" class="n"><ellipse cx="143" cy="237" rx="6.5" ry="2.1"/><text x="143" y="237.7">CG14607</text></g>
<g id="b-cg9183" class="n r"><ellipse cx="142" cy="244" rx="6.5" ry="2.1"/><text x="142" y="244.7">CG9183</text></g>
<g id="b-cg9193" class="n r"><ellipse cx="142" cy="251" rx="6.5" ry="2.1"/><text x="142" y="251.7">CG9193</text></g>
<g id="b-rpd3" class="k"><rect x="156" y="248.7" width="12" height="4.6"/><text x="162" y="251.7">Rpd3</text></g>
<g id="b-cg6355" class="n"><ellipse cx="162" cy="237" rx="6.5" ry="2.1"/><text x="162" y="237.7">CG6355</text></g>
<g id="b-mcm7" class="n r"><ellipse cx="192" cy="262" rx="6.5" ry="2.1"/><text x="192" y="262.7">Mcm7</text></g>
<g id="b-orc2" class="n r"><ellipse cx="162" cy="291" rx="6.5" ry="2.1"/><text x="162" y="291.7">Orc2</text></g>
<g id="b-row1" class="n r"><ellipse cx="214" cy="270" rx="5.5" ry="2"/><text x="214" y="270.7">Orc3</text></g>
<g id="b-row2" class="n r"><ellipse cx="225" cy="270" rx="5.5" ry="2"/><text x="225" y="270.7">Mcm3</text></g>
<g id="b-row3" class="n r"><ellipse cx="237" cy="270" rx="5.5" ry="2"/><text x="237" y="270.7">Gins</text></g>
<g id="b-row4" class="n r"><ellipse cx="250" cy="270" rx="5.5" ry="2"/><text x="250" y="270.7">Psf2</text></g>
<g id="b-row5" class="n r"><ellipse cx="264" cy="270" rx="5.5" ry="2"/><text x="264" y="270.7">Psf3</text></g>
<g id="b-cg13690" class="n r"><ellipse cx="285" cy="251" rx="6.5" ry="2.1"/><text x="285" y="251.7">CG13690</text></g>
<g id="b-cg10970" class="n"><ellipse cx="285" cy="287" rx="6.5" ry="2.1"/><text x="285" y="287.7">CG10970</text></g>
<g id="b-wide" class="n r"><ellipse cx="282" cy="298" rx="10" ry="2.1"/><text x="282" y="298.7">DNApol-alpha180</text></g>
<g id="b-mcm6" class="k"><rect x="229" y="292.7" width="12" height="4.6"/><text x="235" y="295.7">Mcm6</text></g>
<g id="b-mcm10" class="k"><rect x="249.5" y="299.7" width="13" height="4.6"/><text x="256" y="302.7">Mcm10</text></g>
<g id="b-mcm5" class="n r"><ellipse cx="210" cy="297" rx="6.5" ry="2.1"/><text x="210" y="297.7">Mcm5</text></g>
<g id="b-mcm2" class="n r"><ellipse cx="197" cy="305" rx="6.5" ry="2.1"/><text x="197" y="305.7">Mcm2</text></g>
<g id="b-dpa" class="n r"><ellipse cx="267" cy="313" rx="6.5" ry="2.1"/><text x="267" y="313.7">dpa</text></g>
<g id="b-rfc38" class="n r"><ellipse cx="269" cy="326" rx="6.5" ry="2.1"/><text x="269" y="326.7">RfC38</text></g>
<g id="b-cdc45l" class="n r"><ellipse cx="187" cy="317" rx="6.5" ry="2.1"/><text x="187" y="317.7">CDC45L</text></g>
<g id="b-dup" class="n r"><ellipse cx="180" cy="332" rx="6.5" ry="2.1"/><text x="180" y="332.7">dup</text></g>
<g id="b-pol" class="n"><ellipse cx="180" cy="346" rx="6.5" ry="2.1"/><text x="180" y="346.7">DNApol-e255</text></g>
<g id="b-orc1" class="n r"><ellipse cx="185" cy="361" rx="6.5" ry="2.1"/><text x="185" y="361.7">Orc1</text></g>
<g id="b-pcna" class="n r"><ellipse cx="197" cy="371" rx="6.5" ry="2.1"/><text x="197" y="371.7">PCNA</text></g>
<g id="b-rfc4" class="n r"><ellipse cx="207" cy="383" rx="6.5" ry="2.1"/><text x="207" y="383.7">RfC4</text></g>
<g id="b-orc5" class="n r"><ellipse cx="222" cy="387" rx="6.5" ry="2.1"/><text x="222" y="387.7">Orc5</text></g>
<g id="b-orc4" class="n r"><ellipse cx="238" cy="386" rx="6.5" ry="2.1"/><text x="238" y="386.7">Orc4</text></g>
<g id="b-mcm4" class="n r"><ellipse cx="253" cy="380" rx="6.5" ry="2.1"/><text x="253" y="380.7">Mcm4</text></g>
<g id="b-rpa2" class="n r"><ellipse cx="273" cy="357" rx="6.5" ry="2.1"/><text x="273" y="357.7">RPA2</text></g>
<g id="b-orc6" class="n r"><ellipse cx="276" cy="342" rx="6.5" ry="2.1"/><text x="276" y="342.7">Orc6</text></g>
<g id="b-cdc7" class="k"><rect x="258" y="368.7" width="12" height="4.6"/><text x="264" y="371.7">Cdc7</text></g>
<g id="b-cg9203" class="n"><ellipse cx="283" cy="371" rx="6.5" ry="2.1"/><text x="283" y="371.7">CG9203</text></g>
<g id="b-mad" class="k"><rect x="81" y="399.7" width="12" height="4.6"/><text x="87" y="402.7">Mad</text></g>
<g id="b-ard" class="n"><ellipse cx="62" cy="411" rx="6.5" ry="2.1"/><text x="62" y="411.7">Ard</text></g>
<g id="b-hp1b" class="n"><ellipse cx="70" cy="417" rx="6.5" ry="2.1"/><text x="70" y="417.7">HP1b</text></g>
<g id="b-cg17344" class="n"><ellipse cx="87" cy="417" rx="6.5" ry="2.1"/><text x="87" y="417.7">CG17344</text></g>
<g id="b-cg5333" class="n"><ellipse cx="105" cy="417" rx="6.5" ry="2.1"/><text x="105" y="417.7">CG5333</text></g>
<g id="b-cg3850" class="n r"><ellipse cx="112" cy="396" rx="6.5" ry="2.1"/><text x="112" y="396.7">CG3850</text></g>
<g id="b-nc2b" class="n r"><ellipse cx="114" cy="411" rx="6.5" ry="2.1"/><text x="114" y="411.7">NC2beta</text></g>
<g id="b-cg7233" class="n"><ellipse cx="162" cy="413" rx="6.5" ry="2.1"/><text x="162" y="413.7">CG7233</text></g>
<g id="b-cg43658" class="k"><rect x="174" y="410.7" width="12" height="4.6"/><text x="180" y="413.7">CG43658</text></g>
<g id="b-cg42357" class="n"><ellipse cx="197" cy="413" rx="6.5" ry="2.1"/><text x="197" y="413.7">CG42357</text></g>
<g id="b-mus209" class="n"><ellipse cx="233" cy="413" rx="6.5" ry="2.1"/><text x="233" y="413.7">mus209</text></g>
<g id="b-cno" class="k"><rect x="244" y="410.7" width="12" height="4.6"/><text x="250" y="413.7">cno</text></g>
<g id="b-cks" class="n"><ellipse cx="268" cy="413" rx="6.5" ry="2.1"/><text x="268" y="413.7">Cks</text></g>
</g>
</g>
</g>

<!-- ================= LEGEND ================= -->
<g id="legend">
<rect x="107" y="434" width="386" height="49" rx="6" fill="#fff" stroke="#333" stroke-width="1"/>
<text x="112" y="462" font-size="7.5" font-weight="bold">Legend</text>
<line x1="160" y1="447" x2="191" y2="447" stroke="#000" stroke-width="1.3"/>
<text x="195" y="445" font-size="3.6" fill="#222">Experimental</text>
<text x="195" y="450" font-size="3.6" fill="#222">Interaction</text>
<line x1="232" y1="447" x2="262" y2="447" stroke="#f00" stroke-width="1"/>
<text x="267" y="445" font-size="3.6" fill="#222">Putative</text>
<text x="267" y="450" font-size="3.6" fill="#222">Interaction</text>
<g id="legend-gene" class="k"><rect x="193" y="466" width="17" height="7"/><text x="201.5" y="470.7" font-size="3.2">Gene</text></g>
<text x="223" y="464.5" font-size="3.6" fill="#222">Node annotated</text>
<text x="223" y="469" font-size="3.6" fill="#222">in GO for "DNA</text>
<text x="223" y="473.5" font-size="3.6" fill="#222">Replication" BP</text>
<text x="314" y="446" font-size="4.4" font-weight="bold">Additive Node Attributes</text>
<text x="324" y="452" font-size="3.8" font-style="italic" text-anchor="middle" fill="#333">colour:</text>
<text x="324" y="456.5" font-size="3.8" font-style="italic" text-anchor="middle" fill="#333">grey</text>
<circle cx="348" cy="453" r="5.6" fill="#c9c9c9"/>
<text x="363" y="452" font-size="4.2" fill="#222"><tspan font-weight="bold">Yes:</tspan> node obtained through experimental pipeline</text>
<text x="363" y="456.5" font-size="4.2" fill="#222"><tspan font-weight="bold">No:</tspan> node not obtained through experimental pipeline</text>
<text x="324" y="469.5" font-size="3.8" font-style="italic" text-anchor="middle" fill="#333">border:</text>
<text x="324" y="474" font-size="3.8" font-style="italic" text-anchor="middle" fill="#333">red</text>
<circle cx="348" cy="471" r="5.4" fill="#fff" stroke="#f00" stroke-width="1.5"/>
<text x="363" y="469.5" font-size="4.2" fill="#222"><tspan font-weight="bold">Yes:</tspan> node obtained through putative pipeline</text>
<text x="363" y="474" font-size="4.2" fill="#222"><tspan font-weight="bold">No:</tspan> node not obtained through putative pipeline</text>
</g>
</svg>
